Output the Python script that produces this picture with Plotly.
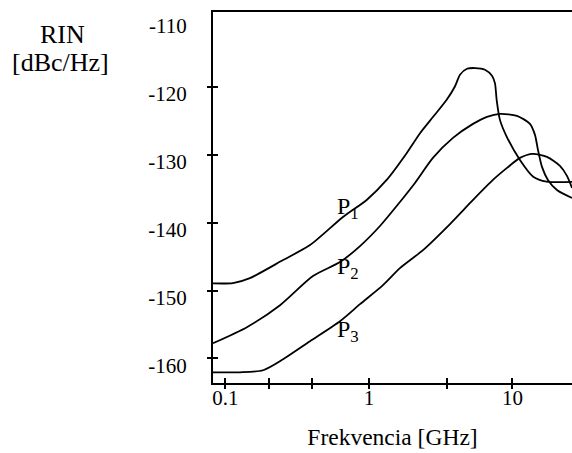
import math
import plotly.graph_objects as go

# ---- data ----
freq_p1 = [0.0818, 0.1128, 0.148, 0.252, 0.388, 0.659, 0.964, 1.328, 1.83, 2.27, 2.81,
           3.48, 3.97, 4.31, 4.82, 5.48, 6.43, 7.20, 7.55, 7.76, 8.18, 9.11, 11.28,
           13.96, 17.31, 26.0]
rin_p1 = [-148.95, -148.9, -148.17, -145.51, -143.30, -139.16, -136.65, -133.70, -129.76,
          -126.81, -124.36, -121.89, -119.93, -118.20, -117.32, -117.21, -117.46, -118.35,
          -119.43, -121.89, -124.85, -127.31, -130.75, -133.22, -133.95, -134.0]

freq_p2 = [0.0818, 0.141, 0.240, 0.407, 0.628, 0.866, 1.193, 1.644, 2.092, 2.79, 3.85,
           5.31, 6.64, 8.18, 10.75, 13.24, 14.35, 15.06, 16.06, 17.67, 20.42, 26.0]
rin_p2 = [-157.77, -155.40, -152.16, -147.87, -145.81, -143.45, -140.49, -136.95, -134.15,
          -130.45, -127.50, -125.44, -124.40, -123.96, -124.25, -125.44, -127.06, -129.27,
          -131.78, -133.70, -135.18, -136.36]

freq_p3 = [0.0818, 0.126, 0.183, 0.252, 0.388, 0.628, 0.866, 1.252, 1.644, 2.38, 3.67,
           5.31, 7.31, 9.16, 11.28, 13.89, 17.39, 21.43, 23.98, 26.0]
rin_p3 = [-162.05, -162.05, -161.75, -160.13, -157.47, -154.52, -152.01, -149.20, -146.69,
          -144.04, -140.20, -136.65, -133.70, -131.93, -130.45, -129.86, -130.31, -131.64,
          -133.11, -134.88]

series_labels = ["P<sub>1</sub>", "P<sub>2</sub>", "P<sub>3</sub>"]
label_freq = [0.714, 0.714, 0.714]
label_rin = [-137.9, -146.7, -155.9]

x_labelvals = [0.1, 1, 10]
x_labeltext = ["0.1", "1", "10"]
x_tickvals = [0.1, 0.2, 0.4, 1, 3.5, 10]
y_labelvals = [-160, -150, -140, -130, -120, -110]
y_tickvals = [-160, -150, -140, -130, -120]

x_range_log = [-1.087, 1.415]
y_range = [-163.63, -108.95]

FONT = "Liberation Serif"

fig = go.Figure()
for f, r in [(freq_p1, rin_p1), (freq_p2, rin_p2), (freq_p3, rin_p3)]:
    fig.add_trace(go.Scatter(
        x=f, y=r, mode="lines",
        line=dict(color="black", width=1.8, shape="spline", smoothing=0.7),
        showlegend=False, hoverinfo="skip"))

# empty traces so that the overlay axes (crossing tick marks) are drawn
for xa, ya in [("x2", "y2"), ("x3", "y3")]:
    fig.add_trace(go.Scatter(x=[None], y=[None], xaxis=xa, yaxis=ya, mode="lines",
                             showlegend=False, hoverinfo="skip"))

for txt, fx, ry in zip(series_labels, label_freq, label_rin):
    fig.add_annotation(x=math.log10(fx), y=ry, xref="x", yref="y", text=txt,
                       showarrow=False, xanchor="center", yanchor="middle",
                       font=dict(family=FONT, size=24, color="black"))

fig.add_annotation(x=-0.4206, y=(383 - 35) / 371, xref="paper", yref="paper",
                   text="RIN", showarrow=False, xanchor="center", yanchor="middle",
                   font=dict(family=FONT, size=26, color="black"))
fig.add_annotation(x=-0.4234, y=(383 - 62) / 371, xref="paper", yref="paper",
                   text="[dBc/Hz]", showarrow=False, xanchor="center", yanchor="middle",
                   font=dict(family=FONT, size=26, color="black"))

tick_common = dict(tickcolor="black", tickwidth=2, ticklen=5, showgrid=False,
                   zeroline=False, automargin=False)

fig.update_layout(
    width=572, height=453,
    margin=dict(l=213, r=0, t=12, b=70, autoexpand=False),
    paper_bgcolor="white", plot_bgcolor="white",
    font=dict(family=FONT, color="black"),
    xaxis=dict(type="log", range=x_range_log, showline=True, linecolor="black",
               linewidth=2, mirror=True, ticks="", tickvals=x_labelvals,
               ticktext=x_labeltext, tickfont=dict(family=FONT, size=21),
               ticklabelstandoff=-5, showgrid=False, zeroline=False, automargin=False,
               title=dict(text="Frekvencia [GHz]", font=dict(family=FONT, size=23.5),
                          standoff=19)),
    xaxis2=dict(type="log", range=x_range_log, overlaying="x", anchor="y",
                ticks="outside", tickvals=x_tickvals, showticklabels=False,
                showline=False, **tick_common),
    xaxis3=dict(type="log", range=x_range_log, overlaying="x", anchor="y",
                ticks="inside", tickvals=x_tickvals, showticklabels=False,
                showline=False, **tick_common),
    yaxis=dict(range=y_range, showline=True, linecolor="black", linewidth=2,
               ticks="", tickvals=y_labelvals, ticktext=[str(v) for v in y_labelvals],
               tickfont=dict(family=FONT, size=21), ticklabelstandoff=20,
               ticklabelshift=7, showgrid=False, zeroline=False, automargin=False),
    yaxis2=dict(range=y_range, overlaying="y", anchor="x", ticks="outside",
                tickvals=y_tickvals, showticklabels=False, showline=False, **tick_common),
    yaxis3=dict(range=y_range, overlaying="y", anchor="x", ticks="inside",
                tickvals=y_tickvals, showticklabels=False, showline=False, **tick_common),
)

fig.write_html("out.html", config={"displayModeBar": False},
               post_script="document.body.style.margin='0';document.body.style.padding='0';")
